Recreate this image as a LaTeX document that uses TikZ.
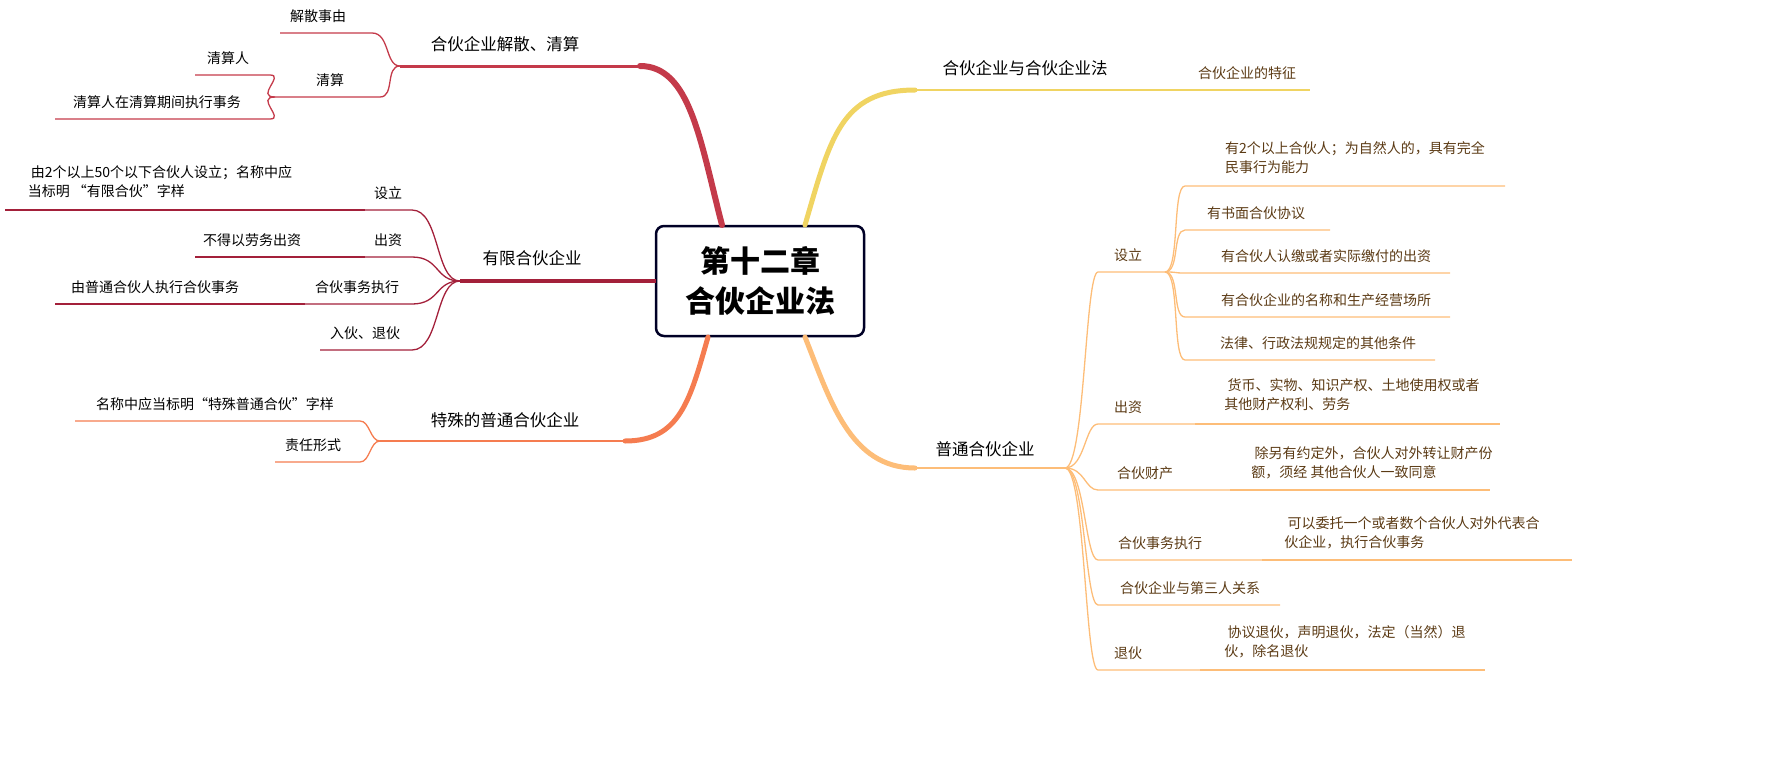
\documentclass[tikz,border=0pt]{standalone}
\usepackage{fontspec}
\setmainfont{Noto Sans CJK SC}
\begin{document}
\begin{tikzpicture}[x=0.5pt,y=-0.5pt,
 lt/.style={font=\fontsize{7}{9.5}\selectfont,inner sep=0pt,align=left},
 bt/.style={font=\fontsize{8.25}{10}\selectfont,inner sep=0pt},
 cr/.style={draw=#1,line width=0.65pt},
]
\definecolor{cRed}{HTML}{C43A4A}
\definecolor{cDark}{HTML}{A3203A}
\definecolor{cOr}{HTML}{F57C50}
\definecolor{cYel}{HTML}{F0D462}
\definecolor{cLo}{HTML}{FDBD78}
\definecolor{cTxt}{HTML}{5B3A14}
\useasboundingbox (0,0) rectangle (1777,772);
% center
\node[draw=black!85!blue,line width=1.25pt,rounded corners=4pt,minimum width=104pt,minimum height=55pt,align=center,font=\fontsize{15}{20}\selectfont\bfseries] (c) at (760,281) {第十二章\\合伙企业法};
\coordinate (cTL) at (722,225); \coordinate (cTR) at (805,225);
\coordinate (cL) at (656,281); \coordinate (cBL) at (708,337); \coordinate (cBR) at (805,337);
% ===== red branch
\coordinate (r0) at (400,66); \coordinate (r1) at (640,66);
\draw[cRed,line width=3pt,line cap=round] (cTL) .. controls (700,140) and (690,66) .. (r1);
\draw[cRed,line width=1.5pt] (r1) -- (r0);
\node[bt] (rt) at (505,44) {合伙企业解散、清算};
\coordinate (ra) at (372,33); \coordinate (ra2) at (280,33);
\draw[cr=cRed] (r0) .. controls (385,66) and (390,33) .. (ra) -- (ra2);
\node[lt] (rat) at (318,16) {解散事由};
\coordinate (rb) at (380,97); \coordinate (rb2) at (275,97);
\draw[cr=cRed] (r0) .. controls (385,66) and (395,97) .. (rb) -- (rb2);
\node[lt] (rbt) at (330,80) {清算};
\coordinate (rc) at (270,75); \coordinate (rc2) at (195,75);
\draw[cr=cRed] (rb2) .. controls (255,97) and (285,75) .. (rc) -- (rc2);
\node[lt] (rct) at (228,58) {清算人};
\coordinate (rd) at (270,119); \coordinate (rd2) at (55,119);
\draw[cr=cRed] (rb2) .. controls (255,97) and (285,119) .. (rd) -- (rd2);
\node[lt] (rdt) at (157,102) {清算人在清算期间执行事务};
% ===== dark red branch
\coordinate (d0) at (460,281);
\draw[cDark,line width=2pt] (cL) -- (d0);
\node[bt] (dt) at (532,258) {有限合伙企业};
\foreach \n/\y/\xl/\tx/\t in {da/210/365/388/设立, db/257/365/388/出资, dc/304/305/357/合伙事务执行, dd/350/320/365/入伙、退伙}{
 \coordinate (\n) at (412,\y); \coordinate (\n2) at (\xl,\y);
 \draw[cr=cDark] (d0) .. controls (435,281) and (440,\y) .. (\n) -- (\n2);
 \node[lt] (\n t) at (\tx,\y-17) {\t};
}
\draw[cr=cDark] (da2) -- (5,210);
\node[lt] (dat2) at (160,182) {\ 由2个以上50个以下合伙人设立；名称中应\\当标明 “有限合伙”字样};
\draw[cr=cDark] (db2) -- (195,257);
\node[lt] (dbt2) at (252,240) {不得以劳务出资};
\draw[cr=cDark] (dc2) -- (55,304);
\node[lt] (dct2) at (155,287) {由普通合伙人执行合伙事务};
% ===== orange branch
\coordinate (o0) at (380,441); \coordinate (o1) at (625,441);
\draw[cOr,line width=2.5pt,line cap=round] (cBL) .. controls (690,400) and (680,441) .. (o1);
\draw[cOr,line width=1.25pt] (o1) -- (o0);
\node[bt] (ot) at (505,420) {特殊的普通合伙企业};
\coordinate (oa) at (360,421); \coordinate (oa2) at (75,421);
\draw[cr=cOr] (o0) .. controls (370,441) and (370,421) .. (oa) -- (oa2);
\node[lt] (oat) at (215,404) {名称中应当标明“特殊普通合伙”字样};
\coordinate (ob) at (360,462); \coordinate (ob2) at (275,462);
\draw[cr=cOr] (o0) .. controls (370,441) and (370,462) .. (ob) -- (ob2);
\node[lt] (obt) at (313,445) {责任形式};
% ===== yellow branch
\coordinate (y0) at (1130,90); \coordinate (y1) at (915,90);
\draw[cYel,line width=2.5pt,line cap=round] (cTR) .. controls (830,140) and (840,90) .. (y1);
\draw[cYel,line width=1.25pt] (y1) -- (y0);
\node[bt] (yt) at (1025,68) {合伙企业与合伙企业法};
\draw[cr=cYel] (y0) -- coordinate (ya) (1310,90);
\node[lt,text=cTxt] (yat) at (1247,73) {合伙企业的特征};
% ===== light orange branch
\coordinate (l0) at (1065,468); \coordinate (l1) at (915,468);
\draw[cLo,line width=2.5pt,line cap=round] (cBR) .. controls (830,400) and (850,468) .. (l1);
\draw[cLo,line width=1.25pt] (l1) -- (l0);
\node[bt] (lt0) at (985,449) {普通合伙企业};
\foreach \n/\y/\xr/\tx/\t in {la/272/1165/1128/设立, lb/424/1195/1128/出资, lc/490/1230/1145/合伙财产, ld/560/1262/1160/合伙事务执行, le/605/1280/1190/合伙企业与第三人关系, lf/670/1200/1128/退伙}{
 \coordinate (\n) at (1098,\y); \coordinate (\n2) at (\xr,\y);
 \draw[cr=cLo] (l0) .. controls (1085,468) and (1085,\y) .. (\n) -- (\n2);
 \node[lt,text=cTxt] (\n t) at (\tx,\y-17) {\t};
}
\foreach \n/\y/\xr in {s1/186/1505, s2/230/1330, s3/273/1450, s4/317/1450, s5/360/1435}{
 \coordinate (\n) at (1185,\y); \coordinate (\n2) at (\xr,\y);
 \draw[cr=cLo] (la2) .. controls (1180,272) and (1172,\y) .. (\n) -- (\n2);
}
\node[lt,text=cTxt] (s1t) at (1355,158) {有2个以上合伙人；为自然人的，具有完全\\民事行为能力};
\node[lt,text=cTxt] (s2t) at (1256,213) {有书面合伙协议};
\node[lt,text=cTxt] (s3t) at (1326,256) {有合伙人认缴或者实际缴付的出资};
\node[lt,text=cTxt] (s4t) at (1326,300) {有合伙企业的名称和生产经营场所};
\node[lt,text=cTxt] (s5t) at (1318,343) {法律、行政法规规定的其他条件};
\draw[cr=cLo] (lb2) -- (1500,424);
\node[lt,text=cTxt] (lbt2) at (1352,395) {\ 货币、实物、知识产权、土地使用权或者\\其他财产权利、劳务};
\draw[cr=cLo] (lc2) -- (1490,490);
\node[lt,text=cTxt] (lct2) at (1372,463) {\ 除另有约定外，合伙人对外转让财产份\\额，须经 其他合伙人一致同意};
\draw[cr=cLo] (ld2) -- (1572,560);
\node[lt,text=cTxt] (ldt2) at (1412,533) {\ 可以委托一个或者数个合伙人对外代表合\\伙企业，执行合伙事务};
\draw[cr=cLo] (lf2) -- (1485,670);
\node[lt,text=cTxt] (lft2) at (1345,642) {\ 协议退伙，声明退伙，法定（当然）退\\伙，除名退伙};
\end{tikzpicture}
\end{document}
